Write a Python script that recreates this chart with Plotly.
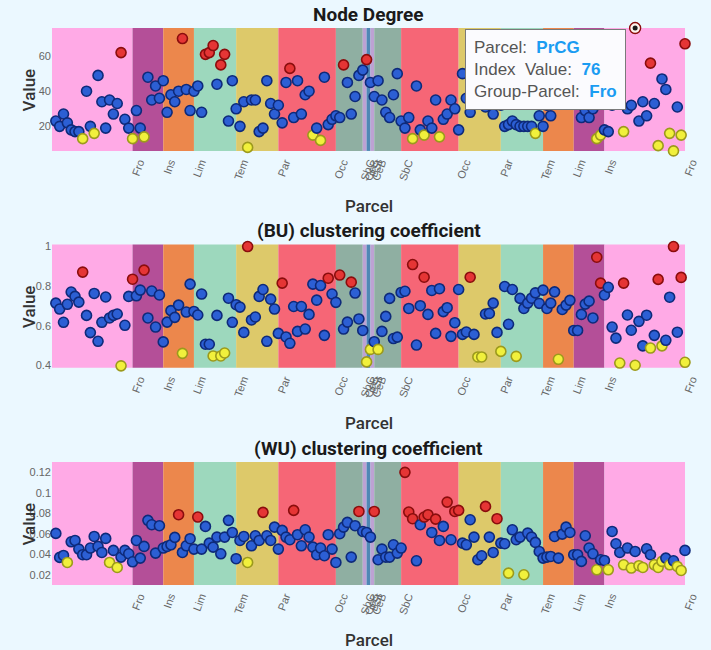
import plotly.graph_objects as go

# ---------------------------------------------------------------- data
groups = ["Fro", "Ins", "Lim", "Tem", "Par", "Occ", "SbC", "CeB", "BSt",
          "CeB", "SbC", "Occ", "Par", "Tem", "Lim", "Ins", "Fro"]
group_sizes = [21, 8, 8, 11, 11, 15, 7, 1, 1, 1, 7, 15, 11, 11, 8, 8, 21]

node_degree = [
    23, 20, 27, 22, 18, 17, 17, 13, 40, 20, 16, 49, 34, 19, 35, 27, 33, 62, 24, 19, 13,
    29, 19, 14, 48, 35, 43, 36, 46,
    28, 38, 34, 40, 70, 41, 29, 40,
    43, 28, 61, 62, 66, 44, 55, 61, 23, 46, 30,
    20, 34, 8, 35, 35, 17, 19, 46, 33, 27, 32,
    22, 45, 53, 25, 46, 27, 38, 40, 15, 19, 12, 48, 21, 24, 26,
    25, 55, 45, 27, 37, 49, 52,
    58, 45, 37,
    46, 35, 28, 25, 38, 50, 23,
    19, 25, 13, 43, 18, 15, 23, 19, 35, 14, 24, 27, 35, 30, 18,
    50, 36, 28, 40, 35, 45, 31, 33, 27, 38, 32,
    20, 21, 23, 21, 20, 20, 20, 20, 16, 26, 20,
    32, 26, 36, 40, 34, 44, 38, 41,
    36, 25, 29, 25, 30, 13, 15, 18,
    17, 32, 40, 36, 17, 30, 32, 76, 23, 34, 26, 56, 33, 9, 47, 41, 16, 6, 31, 15, 67,
]
node_degree_high = [17, 33, 39, 40, 41, 43, 44, 61, 75, 81, 151, 155, 164]
node_degree_low = [7, 10, 20, 23, 50, 67, 69, 93, 96, 100, 125, 141, 142, 148,
                   157, 160, 161, 163]

bu_clustering = [
    0.714, 0.684, 0.617, 0.708, 0.770, 0.748, 0.719, 0.871, 0.652, 0.565, 0.763,
    0.521, 0.617, 0.745, 0.639, 0.652, 0.659, 0.397, 0.602, 0.748, 0.835,
    0.751, 0.780, 0.881, 0.639, 0.775, 0.593, 0.755, 0.518,
    0.618, 0.676, 0.642, 0.704, 0.460, 0.669, 0.810, 0.672,
    0.654, 0.760, 0.506, 0.506, 0.447, 0.652, 0.447, 0.462, 0.739, 0.617, 0.706,
    0.694, 0.566, 1.000, 0.629, 0.644, 0.748, 0.783, 0.521, 0.734, 0.684, 0.561,
    0.815, 0.543, 0.511, 0.697, 0.571, 0.697, 0.583, 0.657, 0.810, 0.729, 0.803,
    0.551, 0.840, 0.760, 0.718,
    0.856, 0.583, 0.618, 0.820, 0.765, 0.634, 0.576,
    0.417, 0.480, 0.519,
    0.480, 0.571, 0.647, 0.738, 0.535, 0.542, 0.768,
    0.774, 0.687, 0.909, 0.502, 0.701, 0.845, 0.657, 0.778, 0.561, 0.787, 0.671,
    0.691, 0.546, 0.615, 0.783,
    0.556, 0.568, 0.845, 0.556, 0.442, 0.442, 0.659, 0.662, 0.714, 0.566, 0.470,
    0.798, 0.607, 0.783, 0.445, 0.738, 0.687, 0.714, 0.739, 0.766, 0.713, 0.780,
    0.687, 0.714, 0.771, 0.430, 0.682, 0.704, 0.728, 0.576,
    0.576, 0.657, 0.709, 0.724, 0.639, 0.946, 0.815, 0.755,
    0.794, 0.593, 0.537, 0.411, 0.815, 0.654, 0.577, 0.400, 0.622, 0.498, 0.653,
    0.487, 0.551, 0.834, 0.498, 0.526, 0.744, 1.000, 0.567, 0.844, 0.415,
]
bu_high = [7, 20, 23, 50, 59, 71, 74, 77, 93, 96, 108, 141, 142, 148, 157, 161, 163]
bu_low = [17, 33, 41, 43, 44, 81, 82, 84, 110, 111, 116, 120, 131, 147, 151, 155,
          158, 164]

wu_clustering = [
    0.0604, 0.0370, 0.0389, 0.0321, 0.0522, 0.0535, 0.0451, 0.0396, 0.0396, 0.0461,
    0.0574, 0.0477, 0.0418, 0.0555, 0.0321, 0.0438, 0.0272, 0.0373, 0.0438, 0.0405,
    0.0327,
    0.0535, 0.0363, 0.0477, 0.0731, 0.0688, 0.0412, 0.0679, 0.0461,
    0.0477, 0.0493, 0.0565, 0.0786, 0.0418, 0.0483, 0.0552, 0.0451,
    0.0763, 0.0451, 0.0672, 0.0509, 0.0470, 0.0568, 0.0405, 0.0568, 0.0731, 0.0613,
    0.0357,
    0.0535, 0.0574, 0.0321, 0.0483, 0.0581, 0.0535, 0.0809, 0.0581, 0.0535, 0.0665,
    0.0451,
    0.0633, 0.0568, 0.0542, 0.0828, 0.0591, 0.0483, 0.0639, 0.0568, 0.0470, 0.0396,
    0.0461, 0.0386, 0.0591, 0.0451, 0.0321,
    0.0601, 0.0665, 0.0711, 0.0373, 0.0679, 0.0818, 0.0623,
    0.0613, 0.0568, 0.0818,
    0.0347, 0.0451, 0.0373, 0.0373, 0.0493, 0.0412, 0.0461,
    0.1199, 0.0812, 0.0747, 0.0337, 0.0688, 0.0763, 0.0786, 0.0613, 0.0743, 0.0535,
    0.0672, 0.0909, 0.0542, 0.0818, 0.0828,
    0.0509, 0.0493, 0.0737, 0.0568, 0.0347, 0.0386, 0.0867, 0.0568, 0.0418, 0.0747,
    0.0509,
    0.0503, 0.0217, 0.0639, 0.0542, 0.0568, 0.0201, 0.0607, 0.0568, 0.0516, 0.0428,
    0.0363,
    0.0373, 0.0379, 0.0574, 0.0363, 0.0597, 0.0665, 0.0613, 0.0396,
    0.0396, 0.0331, 0.0581, 0.0461, 0.0405, 0.0249, 0.0347, 0.0340,
    0.0249, 0.0623, 0.0503, 0.0418, 0.0298, 0.0461, 0.0266, 0.0428, 0.0289, 0.0272,
    0.0454, 0.0396, 0.0298, 0.0272, 0.0331, 0.0363, 0.0298, 0.0337, 0.0282, 0.0243,
    0.0438,
]
wu_high = [32, 37, 54, 62, 79, 83, 91, 92, 93, 96, 97, 99, 102, 104, 105, 112, 115]
wu_low = [3, 14, 16, 50, 118, 122, 141, 144, 148, 150, 152, 153, 156, 157, 158,
          160, 162, 163]

# parcel currently picked out in the hover box
hover_index = 151
hover_parcel = "PrCG"

# ---------------------------------------------------------------- styling
group_colors = {
    "Fro": "#ffaae6", "Ins": "#b44f98", "Lim": "#ec874c", "Tem": "#9dd8bd",
    "Par": "#ddc96a", "Occ": "#f66676", "SbC": "#8fafa2", "CeB": "#bda2d3",
    "BSt": "#4f87b5",
}
BG = "#ebf8ff"
W, H = 711, 650
PLOT_L, PLOT_R = 52.4, 696.3
ROWS_PX = [(28.0, 151.0), (244.7, 368.0), (462.3, 585.3)]
TOP, BOTTOM = ROWS_PX[0][0], ROWS_PX[-1][1]


def px_x(px):
    return (px - PLOT_L) / (PLOT_R - PLOT_L)


def px_y(py):
    return (BOTTOM - py) / (BOTTOM - TOP)


# group boundaries: each band runs from the previous group's last parcel
# to its own last parcel
last_idx = []
acc = -1
for s in group_sizes:
    acc += s
    last_idx.append(acc)
n_parcels = last_idx[-1] + 1
group_of = []
for g, s in zip(groups, group_sizes):
    group_of += [g] * s
x_vals = list(range(n_parcels))

panels = [
    ("Node Degree", node_degree, node_degree_high, node_degree_low, 20),
    ("(BU) clustering coefficient", bu_clustering, bu_high, bu_low, 0.2),
    ("(WU) clustering coefficient", wu_clustering, wu_high, wu_low, 0.02),
]

fig = go.Figure()
shapes, annotations = [], []
tick_font = dict(family="Liberation Sans, Arial", size=11, color="#666666")
head_font = dict(family="Roboto, Noto Sans", size=19, color="#1a1a1a", weight=700)
axis_font = dict(family="Roboto, Noto Sans", size=17, color="#333333", weight=500)

for r, (title, vals, hi, lo, dtick) in enumerate(panels, start=1):
    xa = "x" if r == 1 else f"x{r}"
    ya = "y" if r == 1 else f"y{r}"
    hi_set, lo_set = set(hi), set(lo)
    fills, lines = [], []
    for i in range(n_parcels):
        if i in hi_set:
            fills.append("#e53535"); lines.append("#8a0d0d")
        elif i in lo_set:
            fills.append("#f1f03c"); lines.append("#9c9a1c")
        else:
            fills.append("#2c5fd4"); lines.append("#0e2a7a")
    fig.add_trace(go.Scatter(
        x=x_vals, y=vals, mode="markers", xaxis=xa, yaxis=ya,
        marker=dict(size=10, color=fills, line=dict(color=lines, width=1.6)),
        customdata=group_of, cliponaxis=False, showlegend=False,
        hovertemplate="Index Value: %{y}<br>Group-Parcel: %{customdata}<extra></extra>",
    ))

    # coloured group bands
    start = -1
    for g, end in zip(groups, last_idx):
        shapes.append(dict(type="rect", xref=xa, yref=f"{ya} domain",
                           x0=start, x1=end, y0=0, y1=1, layer="below",
                           fillcolor=group_colors[g], line=dict(width=0)))
        start = end

    lo_px, hi_px = ROWS_PX[r - 1]
    vmin, vmax = min(vals), max(vals)
    layout_x = dict(domain=[0, 1], range=[-1, n_parcels - 1],
                    tickvals=last_idx, ticktext=groups, tickangle=-70,
                    ticklabelshift=7, ticklabelstandoff=2,
                    tickfont=tick_font, showgrid=False, zeroline=False,
                    showline=False, ticks="", anchor=ya)
    layout_y = dict(domain=[px_y(hi_px), px_y(lo_px)],
                    range=[vmin - 0.01, vmax + 0.01], dtick=dtick,
                    tickfont=tick_font, showgrid=False, zeroline=False,
                    showline=False, ticks="", anchor=xa)
    fig.update_layout({("xaxis" if r == 1 else f"xaxis{r}"): layout_x,
                       ("yaxis" if r == 1 else f"yaxis{r}"): layout_y})

    annotations.append(dict(text=f"<b>{title}</b>", xref="paper", yref="paper",
                            x=0.5, y=px_y(lo_px - 14), showarrow=False,
                            xanchor="center", yanchor="middle", font=head_font))
    annotations.append(dict(text="Parcel", xref="paper", yref="paper",
                            x=0.5, y=px_y(hi_px + 55.5), showarrow=False,
                            xanchor="center", yanchor="middle", font=axis_font))
    annotations.append(dict(text="Value", xref="paper", yref="paper",
                            x=px_x(29), y=px_y((lo_px + hi_px) / 2), textangle=-90,
                            showarrow=False, xanchor="center", yanchor="middle",
                            font=axis_font))

# highlighted (hovered) parcel in the first panel
hx, hy = hover_index, node_degree[hover_index]
fig.add_trace(go.Scatter(x=[hx], y=[hy], mode="markers", xaxis="x", yaxis="y",
                         cliponaxis=False, showlegend=False, hoverinfo="skip",
                         marker=dict(size=11, color="#fff4ee",
                                     line=dict(color="#8a0d0d", width=1.4))))
fig.add_trace(go.Scatter(x=[hx], y=[hy], mode="markers", xaxis="x", yaxis="y",
                         cliponaxis=False, showlegend=False, hoverinfo="skip",
                         marker=dict(size=5, color="#1a1a1a")))

val_style = "color:#1a9cf2"
tip = (f"Parcel:  <b><span style='{val_style}'>{hover_parcel}</span></b><br>"
       f"Index  Value:  <b><span style='{val_style}'>{hy}</span></b><br>"
       f"Group-Parcel:  <b><span style='{val_style}'>{group_of[hover_index]}</span></b>")
annotations.append(dict(text=tip, xref="paper", yref="paper",
                        x=px_x(473), y=px_y(29), xanchor="left", yanchor="top",
                        showarrow=False, align="left", bgcolor="#fbfbfe",
                        bordercolor="#7a7a7a", borderwidth=1, borderpad=8,
                        font=dict(family="Liberation Sans, Arial", size=17,
                                  color="#555555")))

fig.update_layout(
    width=W, height=H, autosize=False,
    margin=dict(l=PLOT_L, r=W - PLOT_R, t=TOP, b=H - BOTTOM, pad=0),
    paper_bgcolor=BG, plot_bgcolor=BG,
    shapes=shapes, annotations=annotations, showlegend=False,
)

fig.write_html("out.html")
